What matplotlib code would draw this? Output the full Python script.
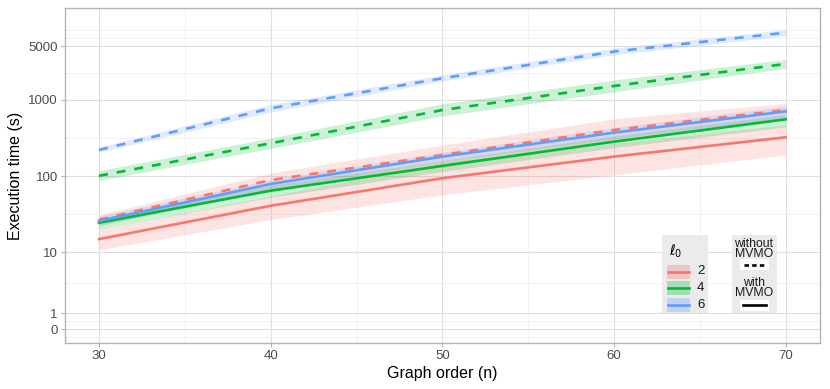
import numpy as np
import matplotlib
matplotlib.use('Agg')
import matplotlib.pyplot as plt
from matplotlib.patches import Rectangle

plt.rcParams['font.family'] = ['Liberation Sans', 'DejaVu Sans']

# ---- data ----
n = [30, 40, 50, 60, 70]

l0_levels = ['2', '4', '6']
colors = ['#F8766D', '#00BA38', '#619CFF']

# with MVMO (solid)
with_mid = {
    '2': [15, 41, 94, 180, 322],
    '4': [24.6, 64.6, 136, 282, 552],
    '6': [26, 79, 180, 370, 700],
}
with_lo = {
    '2': [10.8, 27, 57, 104, 189],
    '4': [20, 53, 115, 235, 440],
    '6': [23, 67, 155, 310, 570],
}
with_hi = {
    '2': [19.8, 55, 150, 270, 466],
    '4': [28, 76, 160, 335, 640],
    '6': [30, 90, 205, 430, 820],
}

# without MVMO (dashed)
without_mid = {
    '2': [27, 89, 189, 401, 730],
    '4': [101, 269, 730, 1506, 2920],
    '6': [220, 770, 1900, 4230, 7480],
}
without_lo = {
    '2': [22.5, 66, 140, 280, 540],
    '4': [88, 230, 610, 1260, 2550],
    '6': [205, 690, 1750, 3850, 6800],
}
without_hi = {
    '2': [31, 110, 254, 560, 894],
    '4': [118, 315, 880, 1800, 3350],
    '6': [240, 860, 2100, 4700, 8200],
}

y_ticks = [0, 1, 10, 100, 1000, 5000]
x_ticks = [30, 40, 50, 60, 70]

W, H = 830, 389
fig = plt.figure(figsize=(W / 100, H / 100), dpi=100)

# panel in pixel coords
px0, px1, py0, py1 = 64.7, 820, 8, 343.3
ax = fig.add_axes([px0 / W, 1 - py1 / H, (px1 - px0) / W, (py1 - py0) / H])
ax.set_yscale('asinh', linear_width=2)

dash = (3.4, 3.4)
lw = 1.9
for lev, col in zip(l0_levels, colors):
    ax.fill_between(n, without_lo[lev], without_hi[lev], color=col, alpha=0.2, lw=0, zorder=2)
    ax.fill_between(n, with_lo[lev], with_hi[lev], color=col, alpha=0.2, lw=0, zorder=2)
for lev, col in zip(l0_levels, colors):
    ax.plot(n, without_mid[lev], color=col, lw=lw, ls=(0, dash), zorder=3)
    ax.plot(n, with_mid[lev], color=col, lw=lw, zorder=3)

ax.set_xlim(28, 72)
ax.set_ylim(-0.867, 15700)

# grid: minors at midpoints (in transformed space) of the majors
t = np.arcsinh(np.array(y_ticks) / 2.0)
step = t[1] - t[0]
t_ext = np.concatenate([[t[0] - step], t, [t[-1] + step]])
t_minor = np.concatenate([(t_ext[:-1] + t_ext[1:]) / 2, [t_ext[-1]]])
y_minor = 2 * np.sinh(t_minor)

ax.set_yticks(y_ticks)
ax.set_yticklabels([str(v) for v in y_ticks])
ax.set_yticks(y_minor, minor=True)
ax.set_xticks(x_ticks)
ax.set_xticks([35, 45, 55, 65], minor=True)

ax.grid(True, which='major', color='#DEDEDE', lw=0.8, zorder=0)
ax.grid(True, which='minor', color='#EBEBEB', lw=0.5, zorder=0)
ax.set_axisbelow(True)

for s in ax.spines.values():
    s.set_color('#B3B3B3')
    s.set_linewidth(1.0)
ax.tick_params(which='major', length=3, color='#B3B3B3', labelsize=9.5,
               labelcolor='#4D4D4D', pad=2)
ax.tick_params(which='minor', length=0)

ax.set_xlabel('Graph order (n)', fontsize=11.5, labelpad=3)
ax.set_ylabel('Execution time (s)', fontsize=11.5, labelpad=4)


def pix_axes(x0, y0, x1, y1):
    a = fig.add_axes([x0 / W, 1 - y1 / H, (x1 - x0) / W, (y1 - y0) / H])
    a.set_xlim(x0, x1)
    a.set_ylim(y1, y0)
    a.axis('off')
    return a


# legend 1: l0 colours
lg1 = pix_axes(662, 235, 707.5, 312.5)
lg1.add_patch(Rectangle((662, 235), 45.5, 77.5, facecolor='#EBEBEB', edgecolor='none'))
lg1.text(676, 251, r'$\ell_0$', ha='center', va='center', fontsize=10)
for i, (lev, col) in enumerate(zip(l0_levels, colors)):
    yc = 271.5 + i * 16.5
    lg1.add_patch(Rectangle((667, yc - 7), 23, 14, facecolor=col, alpha=0.3, edgecolor='none'))
    lg1.plot([668, 689], [yc, yc], color=col, lw=lw)
    lg1.text(697, yc, lev, ha='left', va='center', fontsize=9.5, color='#1A1A1A')

# legend 2: linetype
lg2 = pix_axes(731.5, 235, 777, 312.5)
lg2.add_patch(Rectangle((731.5, 235), 45.5, 77.5, facecolor='#EBEBEB', edgecolor='none'))
lg2.text(754, 249, 'without\nMVMO', ha='center', va='center', fontsize=8.8,
         linespacing=0.8, color='#1A1A1A')
lg2.add_patch(Rectangle((740, 259), 29, 11, facecolor='white', edgecolor='none'))
lg2.plot([743.5, 765.5], [264.5, 264.5], color='black', lw=lw,
         ls=(0, (1.7, 1.2)), dash_capstyle='butt')
lg2.text(754, 288, 'with\nMVMO', ha='center', va='center', fontsize=8.8,
         linespacing=0.8, color='#1A1A1A')
lg2.add_patch(Rectangle((740, 299.5), 29, 11, facecolor='white', edgecolor='none'))
lg2.plot([743, 766], [305, 305], color='black', lw=lw)

fig.savefig('out.png', dpi=100)
